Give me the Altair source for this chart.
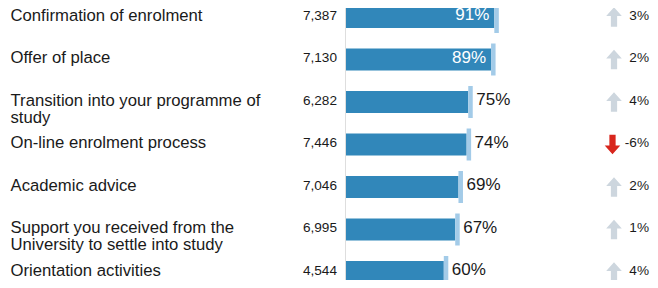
import altair as alt
import pandas as pd

categories = [
    "Confirmation of enrolment",
    "Offer of place",
    "Transition into your programme of\nstudy",
    "On-line enrolment process",
    "Academic advice",
    "Support you received from the\nUniversity to settle into study",
    "Orientation activities",
]
counts = [7387, 7130, 6282, 7446, 7046, 6995, 4544]
pct = [0.91, 0.89, 0.75, 0.74, 0.69, 0.67, 0.60]
change = [3, 2, 4, -6, 2, 1, 4]

df = pd.DataFrame({
    "cat": categories,
    "n": [f"{c:,}" for c in counts],
    "pct": pct,
    "pct_label": [f"{round(p*100)}%" for p in pct],
    "chg": change,
    "chg_label": [f"{c}%" for c in change],
})

FONT = "Liberation Sans"
W, H = 642, 272

y = alt.Y("cat:N", sort=categories,
          scale=alt.Scale(range=[-12.25, 285.25], paddingInner=0, paddingOuter=0),
          axis=None)
x = alt.X("pct:Q", scale=alt.Scale(domain=[0, 1], range=[338, 501]), axis=None)

base = alt.Chart(df)

rule = base.transform_filter("datum.chg == 3").mark_rule(color="#dedede", strokeWidth=1).encode(
    x=alt.value(337.5), y=alt.value(0), y2=alt.value(H)
)

bars = base.mark_bar(color="#3187ba", size=22).encode(x=x, y=y)
ticks = base.mark_tick(color="#a3cbe8", thickness=4.5, size=32, xOffset=2.25, opacity=1).encode(x=x, y=y)

inside = base.transform_filter("datum.pct >= 0.85").mark_text(
    font=FONT, fontSize=17, color="white", align="right", baseline="middle", dx=-5, dy=-2
).encode(x=x, y=y, text="pct_label:N")
outside = base.transform_filter("datum.pct < 0.85").mark_text(
    font=FONT, fontSize=17, color="#1a1a1a", align="left", baseline="middle", dx=8, dy=-2
).encode(x=x, y=y, text="pct_label:N")

labels = base.mark_text(
    font=FONT, fontSize=16.7, color="#1a1a1a", align="left", baseline="middle",
    lineBreak="\n", lineHeight=17, dy=-1.5
).encode(x=alt.value(2.5), y=y, text="cat:N")

nums = base.mark_text(
    font=FONT, fontSize=13.6, color="#1a1a1a", align="right", baseline="middle", dy=-1.5
).encode(x=alt.value(329), y=y, text="n:N")

up_path = "M0,-1L0.8,-0.1L0.32,-0.1L0.32,1L-0.32,1L-0.32,-0.1L-0.8,-0.1Z"
down_path = "M0,1L0.8,0.1L0.32,0.1L0.32,-1L-0.32,-1L-0.32,0.1L-0.8,0.1Z"

up = base.transform_filter("datum.chg >= 0").mark_point(
    shape=up_path, filled=True, fill="#cdd6de", size=380, opacity=1
).encode(x=alt.value(606), y=y)
down = base.transform_filter("datum.chg < 0").mark_point(
    shape=down_path, filled=True, fill="#d8261d", size=380, opacity=1
).encode(x=alt.value(604.5), y=y)

chg = base.mark_text(
    font=FONT, fontSize=13.6, color="#1a1a1a", align="right", baseline="middle", dy=-1.5
).encode(x=alt.value(641), y=y, text="chg_label:N")

chart = alt.layer(rule, bars, ticks, inside, outside, labels, nums, up, down, chg).properties(
    width=W, height=H, padding=0,
    autosize=alt.AutoSizeParams(type="none"),
).configure_view(stroke=None)

chart.save("out.html", embed_options={"renderer": "svg", "actions": False})
